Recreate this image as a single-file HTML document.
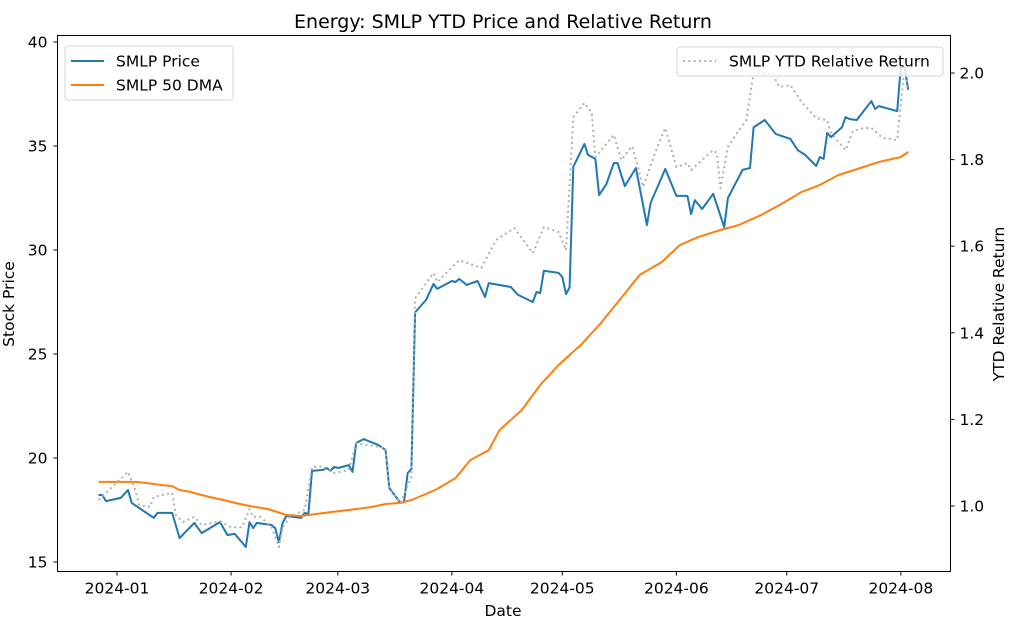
<!DOCTYPE html>
<html><head><meta charset="utf-8"><style>
body{margin:0;background:#fff}
svg{display:block;font-family:"DejaVu Sans","Liberation Sans",sans-serif}
</style></head><body>
<svg id="chart" width="1018" height="628" viewBox="0 0 1018 628"></svg>
<script>
// day offsets from 2024-01-01
const priceDays=[-5,-4,-3,1,3,4,10,11,15,17,21,23,28,30,32,35,36,37,38,42,43,44,45,46,50,51,52,53,56,57,58,59,60,63,64,65,67,71,73,74,77,78,79,80,81,84,86,87,91,92,93,95,98,100,101,107,109,113,114,115,116,120,121,122,123,124,127,128,130,131,133,135,136,138,141,144,145,149,152,155,156,157,159,162,165,166,170,172,173,176,179,183,185,187,190,191,192,193,194,197,198,199,201,205,206,207,212,213,214,215];
const priceVals=[18.22,18.22,17.93,18.08,18.46,17.84,17.12,17.36,17.36,16.15,16.88,16.39,16.92,16.30,16.35,15.72,16.92,16.63,16.88,16.78,16.63,15.96,16.88,17.21,17.12,17.36,17.31,19.38,19.43,19.52,19.38,19.57,19.52,19.66,19.33,20.72,20.91,20.63,20.38,18.56,17.84,17.88,19.28,19.47,27.0,27.6,28.37,28.13,28.51,28.46,28.61,28.32,28.51,27.74,28.41,28.22,27.84,27.5,27.98,27.93,29.0,28.9,28.7,27.88,28.2,34.0,35.1,34.57,34.38,32.64,33.17,34.18,34.18,33.07,33.94,31.2,32.26,33.9,32.6,32.6,31.73,32.4,31.97,32.7,31.1,32.5,33.85,33.94,35.9,36.25,35.58,35.34,34.8,34.57,34.04,34.47,34.38,35.63,35.43,35.9,36.39,36.3,36.25,37.16,36.78,36.92,36.68,38.8,38.8,37.7];
const dmaDays=[-5,5,8,12,15,17,20,23,25,29,32,36,41,46,50,58,63,69,73,77,80,84,87,92,96,101,104,110,115,120,123,126,131,137,142,148,153,158,164,169,175,180,186,191,196,202,207,213,215];
const dmaVals=[18.85,18.85,18.80,18.70,18.65,18.46,18.37,18.22,18.13,17.98,17.84,17.69,17.55,17.26,17.21,17.40,17.50,17.64,17.79,17.84,17.98,18.27,18.51,19.04,19.9,20.38,21.35,22.31,23.51,24.47,24.95,25.43,26.39,27.69,28.8,29.42,30.24,30.63,30.96,31.2,31.68,32.16,32.79,33.13,33.6,33.94,34.23,34.47,34.71];
const relDays=[-5,3,5,6,9,10,15,16,18,21,23,28,31,34,36,37,39,42,44,45,47,51,53,56,59,63,65,73,74,77,80,81,86,87,93,99,103,108,113,116,120,122,124,127,129,130,135,137,140,143,146,149,152,155,156,162,163,164,166,169,171,173,178,180,183,186,190,193,194,198,200,203,205,208,212,214,215];
const relVals=[1.014,1.079,1.037,1.002,0.998,1.021,1.030,0.979,0.963,0.975,0.956,0.965,0.951,0.951,0.993,0.975,0.975,0.951,0.905,0.951,0.975,0.991,1.090,1.092,1.076,1.083,1.145,1.134,1.044,1.007,1.067,1.480,1.538,1.517,1.568,1.550,1.614,1.642,1.584,1.644,1.633,1.591,1.898,1.931,1.908,1.806,1.857,1.799,1.831,1.737,1.811,1.873,1.783,1.792,1.776,1.822,1.815,1.734,1.829,1.868,1.891,2.0,2.0,1.968,1.972,1.933,1.896,1.891,1.861,1.822,1.866,1.873,1.873,1.850,1.845,2.014,1.968];
const leftTicks=[15,20,25,30,35,40];
const rightTicks=[1.0,1.2,1.4,1.6,1.8,2.0];
const xTickLabels=["2024-01","2024-02","2024-03","2024-04","2024-05","2024-06","2024-07","2024-08"];
const xTickDays=[0,31,60,91,121,152,182,213];

const L=57.5,R=950.5,T=35.5,B=571.5;
const xs=d=>117+d*3.68;
const yl=v=>42+(40-v)*20.8;
const yr=v=>73+(2-v)*433;
const svg=document.getElementById('chart');
const NS='http://www.w3.org/2000/svg';
function mk(tag,attrs,parent){const e=document.createElementNS(NS,tag);for(const k in attrs)e.setAttribute(k,attrs[k]);(parent||svg).appendChild(e);return e;}

function line(days,vals,f,stroke,w,dash,name){
  const p=mk('polyline',{points:days.map((d,i)=>xs(d).toFixed(1)+','+f(vals[i]).toFixed(1)).join(' '),fill:'none',stroke:stroke,'stroke-width':w,'stroke-linejoin':'round'});
  if(dash)p.setAttribute('stroke-dasharray',dash);
  
  
}
line(priceDays,priceVals,yl,'#1f77b4',2,null,'smlp-price-line');
line(dmaDays,dmaVals,yl,'#ff7f0e',2,null,'smlp-50dma-line');
line(relDays,relVals,yr,'#b0b0b0',2,'2,3.3','relative-return-line');

const frame=mk('rect',{x:L,y:T,width:R-L,height:B-T,fill:'none',stroke:'#000','stroke-width':1});



leftTicks.forEach(v=>{const y=yl(v);mk('line',{x1:L-4,x2:L,y1:y,y2:y,stroke:'#000'});
  const t=mk('text',{x:L-10,y:y+5.5,'text-anchor':'end','font-size':15.5,fill:'#000'});t.textContent=v;
  
  });
rightTicks.forEach(v=>{const y=yr(v);mk('line',{x1:R,x2:R+4,y1:y,y2:y,stroke:'#000'});
  const t=mk('text',{x:R+9,y:y+5.5,'font-size':15.5,fill:'#000'});t.textContent=v.toFixed(1);
  
  });
xTickDays.forEach((d,i)=>{const x=xs(d);mk('line',{x1:x,x2:x,y1:B,y2:B+4,stroke:'#000'});
  const t=mk('text',{x:x,y:B+22,'text-anchor':'middle','font-size':15.5,fill:'#000'});t.textContent=xTickLabels[i];
  
  });

function txt(s,attrs,name){const t=mk('text',attrs);t.textContent=s;
  
  return t;}
txt('Energy: SMLP YTD Price and Relative Return',{x:503,y:28,'text-anchor':'middle','font-size':19},'chart-title');
txt('Date',{x:503,y:616,'text-anchor':'middle','font-size':15.5},'x-axis-title');
txt('Stock Price',{x:0,y:0,'text-anchor':'middle','font-size':15.5,transform:'translate(14,304) rotate(-90)'},'left-y-axis-title');
txt('YTD Relative Return',{x:0,y:0,'text-anchor':'middle','font-size':15.5,transform:'translate(1004,304) rotate(-90)'},'right-y-axis-title');

const lg=mk('g',{});


mk('rect',{x:65,y:46,width:168,height:54,rx:3,fill:'#fff','fill-opacity':0.8,stroke:'#d6d6d6'},lg);
mk('line',{x1:71,x2:104,y1:61,y2:61,stroke:'#1f77b4','stroke-width':2},lg);
mk('line',{x1:71,x2:104,y1:85,y2:85,stroke:'#ff7f0e','stroke-width':2},lg);
const a=mk('text',{x:116,y:66.5,'font-size':15.5},lg);a.textContent='SMLP Price';
const b=mk('text',{x:116,y:90.5,'font-size':15.5},lg);b.textContent='SMLP 50 DMA';
const rg=mk('g',{});


mk('rect',{x:677,y:47,width:266,height:29,rx:3,fill:'#fff','fill-opacity':0.8,stroke:'#d6d6d6'},rg);
mk('line',{x1:683,x2:716,y1:61,y2:61,stroke:'#b0b0b0','stroke-width':2,'stroke-dasharray':'2,3.3'},rg);
const c=mk('text',{x:729,y:66.5,'font-size':15.5},rg);c.textContent='SMLP YTD Relative Return';
</script>
</body></html>
